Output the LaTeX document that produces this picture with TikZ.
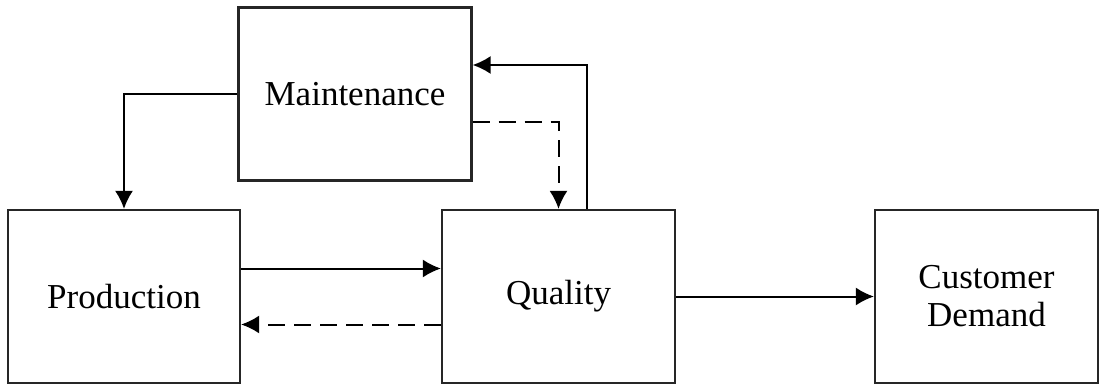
\documentclass[tikz,border=0pt]{standalone}
\usepackage{fontspec}
\setmainfont{Liberation Serif}
\usepackage{tikz}
\usetikzlibrary{arrows.meta}
\usetikzlibrary{calc}
\tikzstyle{box}=[draw=black!85, line width=1.1pt, minimum height=86.5pt, align=center, inner sep=0pt, font=\fontsize{17.5}{19}\selectfont]
\tikzstyle{flow}=[line width=1pt, -{Latex[length=9pt,width=9pt]}]
\tikzstyle{back}=[flow, dash pattern=on 8.5pt off 4.5pt]

\begin{document}
\begin{tikzpicture}[x=0.5pt,y=-0.5pt]
\useasboundingbox (0,0) rectangle (1102,385);
\node[box, minimum width=116.5pt] (mnt) at (355,94) {Maintenance};
\node[box, minimum width=116pt] (prod) at (124,296.5) {Production};
\node[box, minimum width=116.5pt] (qual) at (558.5,296.5) {Quality};
\node[box, minimum width=111.5pt] (cust) at (986.5,296.5) {Customer\\Demand};
\draw[flow] (mnt.west) -| (prod.north);
\draw[flow] ([xshift=14pt]qual.north) |- ([yshift=14.5pt]mnt.east);
\draw[back] ([yshift=-14pt]mnt.east) -| (qual.north);
\draw[flow] ([yshift=14pt]prod.east) -- ([yshift=14pt]qual.west);
\draw[back] ([yshift=-14pt]qual.west) -- ([yshift=-14pt]prod.east);
\draw[flow] (qual.east) -- (cust.west);
\end{tikzpicture}
\end{document}
